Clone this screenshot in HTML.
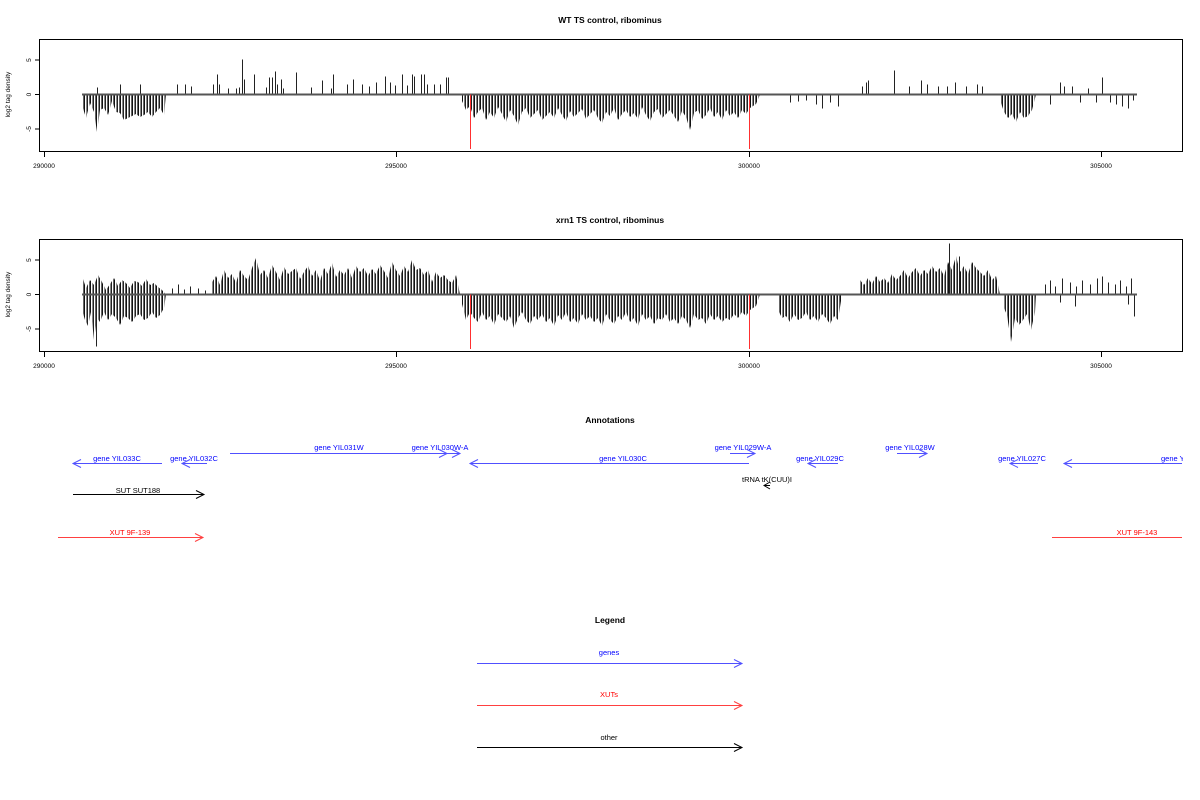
<!DOCTYPE html>
<html><head><meta charset="utf-8"><style>
html,body{margin:0;padding:0;background:#fff;}
svg{display:block;font-family:"Liberation Sans",sans-serif;}
</style></head><body>
<svg width="1200" height="800" viewBox="0 0 1200 800" xmlns="http://www.w3.org/2000/svg">
<defs>
<pattern id="st" width="6" height="10" patternUnits="userSpaceOnUse">
<rect x="0" y="0" width="1" height="10" fill="#111"/>
<rect x="2" y="0" width="1" height="10" fill="#888"/>
<rect x="3" y="0" width="1" height="10" fill="#222"/>
<rect x="5" y="0" width="1" height="10" fill="#666"/>
</pattern>
</defs>
<rect width="1200" height="800" fill="#fff"/>
<g font-size="8.5" font-weight="bold" text-anchor="middle">
<text x="610" y="23">WT TS control, ribominus</text>
<text x="610" y="223">xrn1 TS control, ribominus</text>
<text x="610" y="423">Annotations</text>
<text x="610" y="623">Legend</text>
</g>

<!-- Plot 1 -->
<g fill="url(#st)">
<polygon points="82,94.5 82,105 86,118 90,103 94,112 97,132 100,110 104,108 108,115 112,101 116,112 120,113 124,120 128,118 132,116 136,114 140,117 144,115 148,112 152,117 156,112 160,108 164,115 166,94.5"/>
<polygon points="462,94.5 462,101 466,110 470,106 474,118 478,112 482,108 486,120 490,112 494,118 498,107 502,114 506,122 510,110 514,116 518,125 522,112 526,108 530,118 534,114 538,110 542,120 546,116 550,112 554,118 558,108 562,115 566,121 570,111 574,117 578,113 582,109 586,119 590,114 594,110 598,118 602,123 606,112 610,116 614,108 618,120 622,114 626,110 630,117 634,113 638,119 642,107 646,115 650,121 654,112 658,109 662,118 666,114 670,110 674,116 678,122 682,111 686,117 690,130 694,113 698,110 702,119 706,115 710,108 714,117 718,112 722,120 726,110 730,116 734,112 738,118 742,110 746,114 750,108 756,104 760,94.5"/>
<polygon points="1000,94.5 1000,100 1004,112 1008,118 1012,114 1016,122 1020,112 1024,118 1028,116 1032,110 1036,94.5"/>
</g>
<path stroke="#222" stroke-width="1" fill="none" d="M97.5 94.5v-7M120.5 94.5v-10M140.5 94.5v-10M177.5 94.5v-10M185.5 94.5v-10M191.5 94.5v-8M213.5 94.5v-10M217.5 94.5v-20M219.5 94.5v-10M228.5 94.5v-6M236.5 94.5v-6M239.5 94.5v-7M242.5 94.5v-35M244.5 94.5v-15M254.5 94.5v-20M266.5 94.5v-7M269.5 94.5v-17M272.5 94.5v-17M275.5 94.5v-23M277.5 94.5v-10M281.5 94.5v-15M283.5 94.5v-6M296.5 94.5v-22M311.5 94.5v-7M322.5 94.5v-14M331.5 94.5v-6M333.5 94.5v-20M347.5 94.5v-10M353.5 94.5v-15M362.5 94.5v-10M369.5 94.5v-8M376.5 94.5v-12M385.5 94.5v-18M390.5 94.5v-12M395.5 94.5v-9M402.5 94.5v-20M407.5 94.5v-9M412.5 94.5v-20M414.5 94.5v-18M421.5 94.5v-20M424.5 94.5v-20M427.5 94.5v-10M434.5 94.5v-10M440.5 94.5v-10M446.5 94.5v-17M448.5 94.5v-17M790.5 94.5v8M798.5 94.5v7M806.5 94.5v6M816.5 94.5v10M822.5 94.5v14M830.5 94.5v8M838.5 94.5v12M862.5 94.5v-8M866.5 94.5v-12M868.5 94.5v-14M894.5 94.5v-24M909.5 94.5v-8M921.5 94.5v-14M927.5 94.5v-10M938.5 94.5v-8M947.5 94.5v-8M955.5 94.5v-12M966.5 94.5v-8M977.5 94.5v-10M982.5 94.5v-8M1050.5 94.5v10M1060.5 94.5v-12M1064.5 94.5v-8M1072.5 94.5v-8M1080.5 94.5v8M1088.5 94.5v-6M1096.5 94.5v8M1102.5 94.5v-17M1110.5 94.5v8M1116.5 94.5v10M1122.5 94.5v12M1128.5 94.5v14M1133.5 94.5v6"/>
<line x1="82" y1="94.5" x2="1137" y2="94.5" stroke="#555" stroke-width="2"/>
<path stroke="#ff3030" d="M470.5 94.5V149M749.5 94.5V149"/>

<!-- Plot 2 -->
<g fill="url(#st)">
<polygon points="82,294.5 82,310 85,320 88,326 91,312 94,340 97,318 100,322 104,312 108,320 112,314 116,318 120,325 124,316 128,318 132,322 136,316 140,314 144,320 148,318 152,312 156,318 160,315 164,308 166,294.5"/>
<polygon points="82,294.5 82,276 86,288 90,280 94,285 98,275 102,282 106,290 110,284 114,278 118,286 122,280 126,283 130,288 134,281 138,282 142,286 146,279 150,285 154,283 158,287 162,290 166,294.5"/>
<polygon points="212,294.5 212,282 216,276 220,285 224,270 228,278 232,274 236,283 240,270 244,276 248,280 252,268 256,258 260,275 264,270 268,278 272,265 276,272 280,280 284,267 288,274 292,271 296,268 300,279 304,272 308,266 312,276 316,270 320,281 324,268 328,274 332,263 336,277 340,270 344,275 348,268 352,278 356,266 360,272 364,268 368,276 372,269 376,274 380,265 384,271 388,278 392,262 396,270 400,276 404,266 408,272 412,260 416,270 420,268 424,275 428,270 432,282 436,272 440,278 444,275 448,280 452,283 456,275 460,294.5"/>
<polygon points="462,294.5 462,304 466,320 470,312 474,318 478,322 482,312 486,320 490,316 494,325 498,314 502,318 506,322 510,316 514,328 518,318 522,312 526,320 530,324 534,316 538,320 542,314 546,322 550,318 554,326 558,315 562,320 566,312 570,322 574,318 578,324 582,314 586,320 590,316 594,322 598,318 602,326 606,314 610,320 614,324 618,316 622,320 626,312 630,322 634,318 638,326 642,314 646,320 650,316 654,324 658,318 662,320 666,314 670,322 674,318 678,324 682,316 686,320 690,328 694,314 698,320 702,318 706,324 710,314 714,320 718,316 722,322 726,318 730,320 734,314 738,318 742,312 746,316 750,310 756,306 760,294.5"/>
<polygon points="778,294.5 778,310 782,318 786,316 790,322 794,314 798,320 802,318 806,312 810,320 814,316 818,322 822,314 826,318 830,324 834,316 838,320 842,294.5"/>
<polygon points="860,294.5 860,280 864,285 868,278 872,284 876,276 880,282 884,278 888,283 892,274 896,280 900,276 904,270 908,278 912,272 916,268 920,276 924,270 928,274 932,266 936,272 940,268 944,276 948,262 952,270 956,256 960,272 964,266 968,274 972,262 976,268 980,272 984,276 988,270 992,280 996,276 1000,294.5"/>
<polygon points="1003,294.5 1003,306 1007,315 1011,342 1015,318 1019,325 1023,320 1027,314 1031,330 1035,312 1036,294.5"/>
</g>
<path stroke="#222" stroke-width="1" fill="none" d="M96.5 294.5v52M172.5 294.5v-6M178.5 294.5v-10M184.5 294.5v-5M190.5 294.5v-8M198.5 294.5v-6M205.5 294.5v-4M949.5 294.5v-51M959.5 294.5v-38M1045.5 294.5v-10M1050.5 294.5v-14M1055.5 294.5v-8M1060.5 294.5v8M1062.5 294.5v-16M1070.5 294.5v-12M1075.5 294.5v12M1076.5 294.5v-8M1082.5 294.5v-14M1090.5 294.5v-10M1097.5 294.5v-16M1102.5 294.5v-18M1108.5 294.5v-12M1115.5 294.5v-10M1120.5 294.5v-14M1126.5 294.5v-8M1128.5 294.5v10M1131.5 294.5v-16M1134.5 294.5v22"/>
<line x1="82" y1="294.5" x2="1137" y2="294.5" stroke="#555" stroke-width="2"/>
<path stroke="#ff3030" d="M470.5 294.5V349M749.5 294.5V349"/>

<!-- frames and axes -->
<g fill="none" stroke="#000" stroke-width="1">
<rect x="39.5" y="39.5" width="1143" height="112"/>
<rect x="39.5" y="239.5" width="1143" height="112"/>
<path d="M44.5 152V157M396.5 152V157M749.5 152V157M1101.5 152V157"/>
<path d="M44.5 352V357M396.5 352V357M749.5 352V357M1101.5 352V357"/>
<path d="M39.5 60H35M39.5 94.5H35M39.5 129H35M39.5 260H35M39.5 294.5H35M39.5 329H35"/>
</g>
<g font-size="6.5" text-anchor="middle">
<text x="44" y="168">290000</text><text x="396" y="168">295000</text><text x="749" y="168">300000</text><text x="1101" y="168">305000</text>
<text x="44" y="368">290000</text><text x="396" y="368">295000</text><text x="749" y="368">300000</text><text x="1101" y="368">305000</text>
<text transform="translate(31,60) rotate(-90)">5</text>
<text transform="translate(31,94.5) rotate(-90)">0</text>
<text transform="translate(31,129) rotate(-90)">-5</text>
<text transform="translate(31,260) rotate(-90)">5</text>
<text transform="translate(31,294.5) rotate(-90)">0</text>
<text transform="translate(31,329) rotate(-90)">-5</text>
<text transform="translate(10,94.5) rotate(-90)">log2 tag density</text>
<text transform="translate(10,294.5) rotate(-90)">log2 tag density</text>
</g>

<!-- annotations -->
<g font-size="7.5" text-anchor="middle" fill="#0000ff">
<text x="117" y="461">gene YIL033C</text>
<text x="194" y="461">gene YIL032C</text>
<text x="339" y="450">gene YIL031W</text>
<text x="440" y="450">gene YIL030W-A</text>
<text x="623" y="461">gene YIL030C</text>
<text x="743" y="450">gene YIL029W-A</text>
<text x="820" y="461">gene YIL029C</text>
<text x="910" y="450">gene YIL028W</text>
<text x="1022" y="461">gene YIL027C</text>
<text x="1161" y="461" text-anchor="start">gene Y</text>
<text x="609" y="655">genes</text>
</g>
<g font-size="7.5" text-anchor="middle" fill="#000">
<text x="767" y="482">tRNA tK(CUU)I</text>
<text x="138" y="493">SUT SUT188</text>
<text x="609" y="740">other</text>
</g>
<g font-size="7.5" text-anchor="middle" fill="#ff0000">
<text x="130" y="535">XUT 9F-139</text>
<text x="1137" y="535">XUT 9F-143</text>
<text x="609" y="697">XUTs</text>
</g>
<rect x="1183" y="440" width="17" height="110" fill="#fff"/>
<g stroke="#5050ff" stroke-width="1" fill="none">
<path d="M73 463.5H162M81 459.5L73 463.5L81 467.5"/>
<path d="M182 463.5H207M190 459.5L182 463.5L190 467.5"/>
<path d="M230 453.5H447M439 449.5L447 453.5L439 457.5"/>
<path d="M447 453.5H460M452 449.5L460 453.5L452 457.5"/>
<path d="M470 463.5H749M478 459.5L470 463.5L478 467.5"/>
<path d="M730 453.5H755M747 449.5L755 453.5L747 457.5"/>
<path d="M808 463.5H838M816 459.5L808 463.5L816 467.5"/>
<path d="M897 453.5H927M919 449.5L927 453.5L919 457.5"/>
<path d="M1010 463.5H1038M1018 459.5L1010 463.5L1018 467.5"/>
<path d="M1064 463.5H1182M1072 459.5L1064 463.5L1072 467.5"/>
<path d="M477 663.5H742M734 659.5L742 663.5L734 667.5"/>
</g>
<g stroke="#000" fill="none">
<path d="M764 485.5H770M770 482L764 485.5L770 489"/>
<path d="M73 494.5H204M196 490.5L204 494.5L196 498.5"/>
<path d="M477 747.5H742M734 743.5L742 747.5L734 751.5"/>
</g>
<g stroke="#ff4040" fill="none">
<path d="M58 537.5H203M195 533.5L203 537.5L195 541.5"/>
<path d="M1052 537.5H1182"/>
<path d="M477 705.5H742M734 701.5L742 705.5L734 709.5"/>
</g>
</svg>
</body></html>
